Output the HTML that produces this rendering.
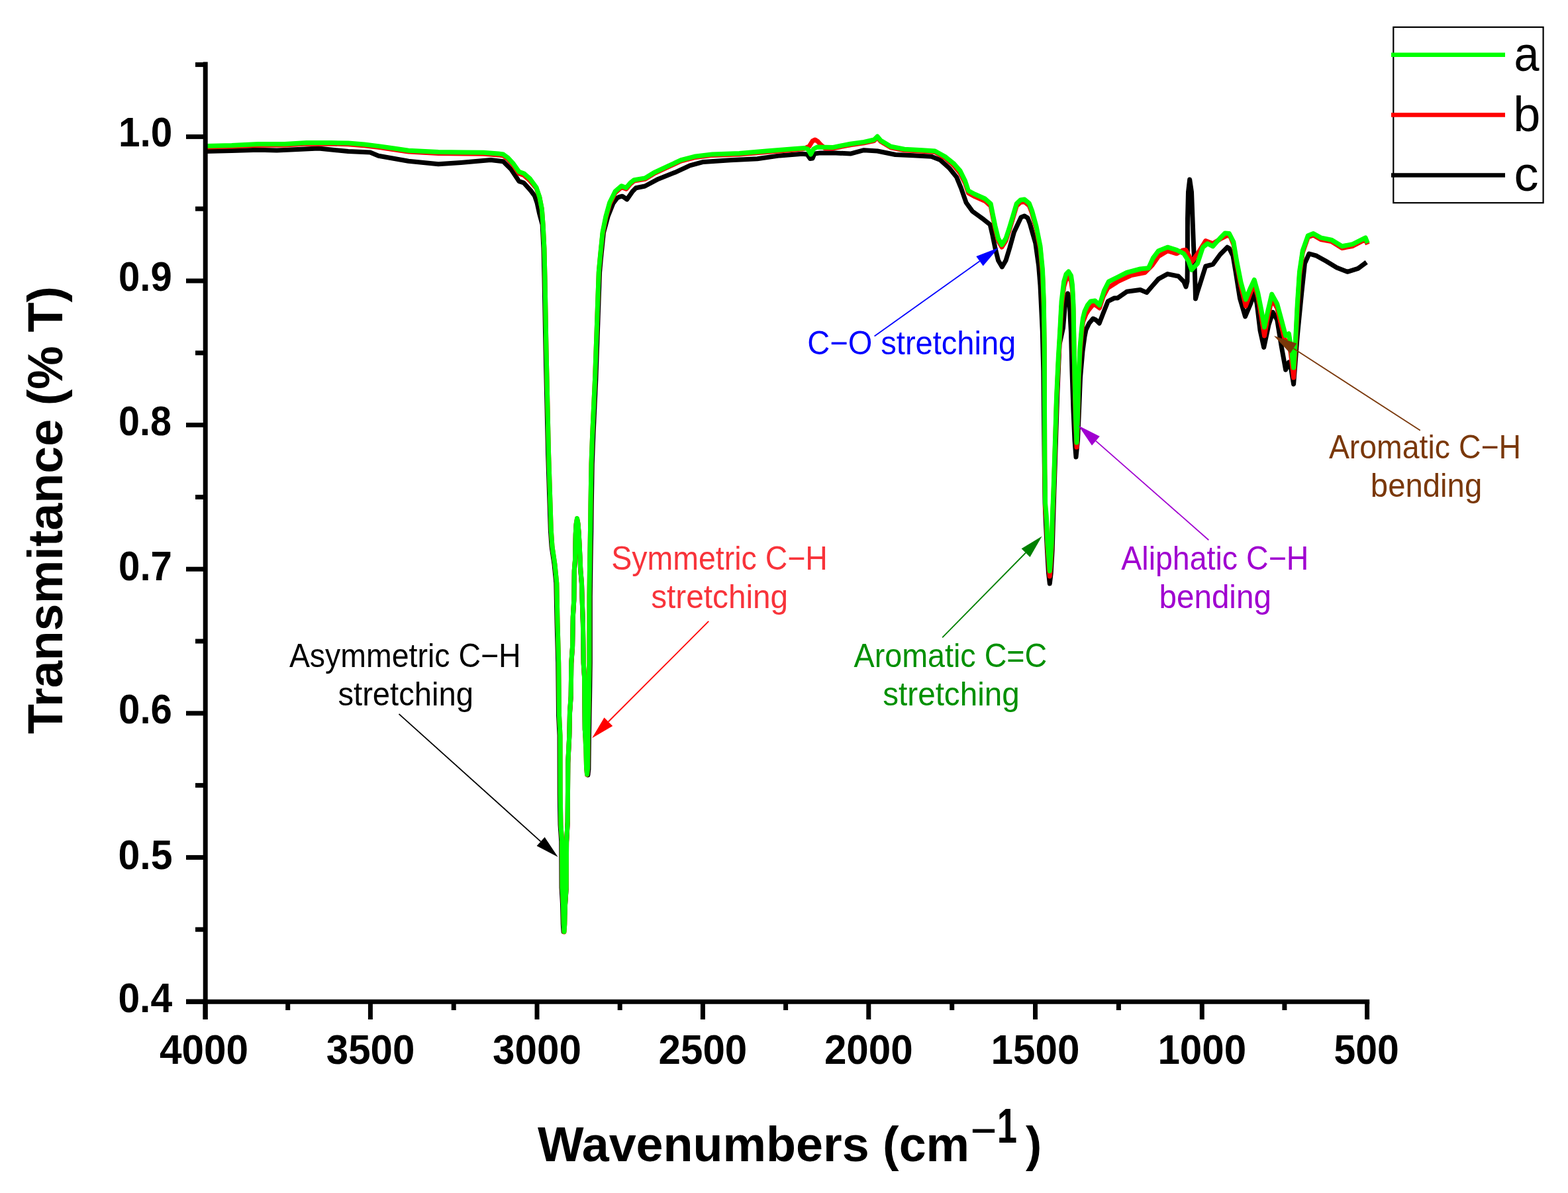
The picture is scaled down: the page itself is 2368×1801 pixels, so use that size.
<!DOCTYPE html>
<html><head><meta charset="utf-8"><title>FTIR spectra</title>
<style>html,body{margin:0;padding:0;background:#fff;} body{width:2368px;height:1801px;overflow:hidden;} svg{display:block;}</style>
</head><body>
<svg width="2368" height="1801" viewBox="0 0 2368 1801"><path d="M309.0,228.5 L350.0,227.5 L390.5,226.2 L418.0,227.0 L450.0,225.5 L481.0,224.0 L526.0,228.5 L559.0,230.0 L571.6,235.3 L617.0,243.2 L662.0,247.7 L696.0,245.5 L741.0,241.6 L760.0,243.8 L772.0,255.7 L783.8,273.6 L791.0,276.0 L801.7,287.9 L807.6,296.0 L811.0,306.0 L814.5,322.0 L819.1,339.0 L820.9,374.8 L822.0,420.0 L824.0,528.0 L827.6,685.7 L830.0,760.0 L831.3,800.0 L833.0,825.0 L837.0,852.0 L839.8,880.0 L841.0,940.0 L842.7,1000.0 L843.5,1080.0 L845.0,1110.0 L845.2,1200.0 L846.0,1245.0 L847.7,1270.0 L848.0,1340.0 L849.5,1365.0 L850.2,1395.0 L851.0,1406.5 L853.5,1367.0 L855.2,1342.0 L855.6,1272.0 L857.2,1242.0 L857.8,1152.0 L859.8,1112.0 L860.5,1077.0 L862.2,1052.0 L862.8,1002.0 L864.6,977.0 L865.3,932.0 L866.8,907.0 L867.3,862.0 L868.5,847.0 L869.3,807.0 L870.2,792.0 L871.5,784.5 L873.0,792.0 L874.2,807.0 L875.5,832.0 L876.8,862.0 L878.5,882.0 L879.2,907.0 L880.4,942.0 L881.2,1002.0 L882.5,1022.0 L883.3,1102.0 L886.1,1131.0 L886.9,1161.0 L887.9,1170.0 L888.9,1161.0 L889.5,1111.0 L890.6,1051.0 L891.3,1001.0 L891.3,901.0 L891.9,852.0 L892.8,801.0 L893.3,761.0 L894.3,701.0 L895.9,658.0 L899.9,572.0 L905.6,411.0 L907.7,387.7 L911.5,351.0 L918.0,327.0 L926.0,307.0 L932.0,299.0 L935.0,297.4 L939.8,296.2 L946.9,301.0 L955.2,289.0 L960.4,283.8 L974.0,281.0 L994.3,270.2 L1021.5,259.4 L1041.9,249.9 L1062.2,244.4 L1103.0,241.7 L1143.7,239.7 L1177.7,234.9 L1211.6,232.2 L1219.0,233.0 L1223.5,239.5 L1227.0,239.0 L1230.0,232.0 L1238.8,230.9 L1257.2,230.7 L1284.3,232.1 L1304.7,226.7 L1325.0,228.0 L1352.2,233.5 L1379.4,234.8 L1406.6,236.2 L1420.1,241.6 L1433.7,253.8 L1444.6,267.4 L1451.4,283.8 L1459.0,305.7 L1468.6,319.0 L1485.7,331.4 L1495.2,339.0 L1499.0,355.2 L1502.9,374.3 L1507.6,393.3 L1513.3,402.9 L1519.0,393.3 L1524.8,374.3 L1531.4,350.5 L1538.1,336.2 L1542.0,328.0 L1547.1,326.0 L1552.0,329.0 L1555.5,338.0 L1559.0,350.5 L1563.8,367.0 L1568.6,401.2 L1571.0,431.0 L1574.3,500.0 L1575.8,560.0 L1577.3,700.0 L1578.1,760.0 L1579.4,790.0 L1581.4,830.0 L1583.5,865.0 L1585.3,881.0 L1587.2,865.0 L1589.2,830.0 L1590.4,790.0 L1592.0,740.0 L1594.0,680.0 L1596.6,600.0 L1600.0,520.0 L1605.5,495.0 L1607.9,466.7 L1610.0,450.0 L1612.6,443.0 L1615.0,452.0 L1616.2,478.6 L1617.4,500.0 L1619.0,560.0 L1621.0,620.0 L1623.0,665.0 L1625.0,690.0 L1627.5,665.0 L1629.5,620.0 L1631.5,570.0 L1635.0,530.0 L1638.0,508.0 L1640.0,498.0 L1644.8,488.0 L1650.7,481.0 L1655.0,483.0 L1660.2,488.0 L1666.2,472.6 L1673.3,454.8 L1682.9,450.0 L1687.9,449.9 L1701.6,440.3 L1722.1,437.5 L1731.7,441.6 L1740.0,432.0 L1749.5,421.1 L1763.2,413.6 L1779.6,417.0 L1787.8,425.2 L1791.0,433.0 L1793.0,425.0 L1793.3,400.0 L1793.5,330.0 L1794.5,290.0 L1796.7,271.0 L1799.5,290.0 L1801.0,330.0 L1802.5,370.0 L1804.0,400.0 L1805.0,430.0 L1805.5,451.0 L1808.0,442.0 L1812.5,428.0 L1820.7,402.0 L1831.6,399.2 L1842.6,384.2 L1853.5,373.2 L1856.4,375.0 L1862.0,386.2 L1866.1,410.3 L1872.5,450.5 L1880.5,477.8 L1888.6,458.6 L1894.2,442.5 L1898.2,458.6 L1903.0,498.7 L1908.7,524.4 L1915.9,490.7 L1922.3,471.4 L1928.7,482.7 L1935.2,522.8 L1941.6,558.2 L1946.4,547.0 L1950.0,558.0 L1953.6,580.0 L1959.3,506.8 L1965.7,442.5 L1970.5,397.5 L1977.0,383.0 L1988.2,386.2 L2002.7,394.3 L2018.7,403.9 L2034.8,410.3 L2050.9,405.4 L2063.7,395.9" fill="none" stroke="#000" stroke-width="7" stroke-linejoin="round" stroke-linecap="butt"/>
<path d="M309.0,222.0 L350.0,221.0 L390.0,219.2 L430.0,219.1 L463.0,217.1 L500.0,217.2 L526.0,217.7 L550.0,219.8 L571.6,222.4 L595.0,225.8 L617.0,229.1 L662.0,231.5 L700.0,231.9 L730.0,232.3 L752.7,233.9 L760.0,235.0 L767.0,240.2 L775.5,249.8 L783.8,261.9 L791.0,264.5 L800.5,272.9 L810.0,284.3 L814.8,297.9 L818.3,315.7 L820.1,339.5 L821.9,375.3 L823.0,420.5 L825.0,528.5 L828.6,686.2 L831.0,760.5 L832.3,800.5 L834.0,825.5 L838.0,852.5 L840.8,880.5 L842.0,940.5 L843.7,1000.5 L844.5,1080.5 L846.0,1110.5 L846.2,1200.5 L847.0,1245.5 L848.7,1270.5 L849.0,1340.5 L850.5,1365.5 L851.2,1395.5 L852.0,1407.0 L852.8,1395.5 L853.5,1365.5 L855.2,1340.5 L855.6,1270.5 L857.2,1240.5 L857.8,1150.5 L859.8,1110.5 L860.5,1075.5 L862.2,1050.5 L862.8,1000.5 L864.6,975.5 L865.3,930.5 L866.8,905.5 L867.3,860.5 L868.5,845.5 L869.3,805.5 L870.2,790.5 L871.5,783.0 L873.0,790.5 L874.2,805.5 L875.5,830.5 L876.8,860.5 L878.5,880.5 L879.2,905.5 L880.4,940.5 L881.2,1000.5 L882.5,1020.5 L883.3,1100.5 L884.8,1130.5 L885.6,1160.5 L886.6,1169.5 L887.6,1160.5 L888.2,1110.5 L889.3,1050.5 L890.0,1000.5 L890.0,900.5 L890.6,851.5 L891.5,800.5 L892.0,760.5 L893.0,700.5 L894.6,657.5 L898.6,571.5 L904.3,411.4 L906.4,388.5 L910.0,353.5 L914.8,329.4 L920.7,308.0 L929.0,291.1 L938.6,282.6 L945.7,285.3 L952.0,277.7 L957.7,273.1 L974.0,270.4 L987.5,262.2 L1007.9,252.7 L1028.3,243.2 L1048.7,237.8 L1075.8,234.4 L1116.6,233.0 L1157.3,229.6 L1198.0,226.3 L1214.0,224.5 L1222.0,221.0 L1227.0,213.0 L1231.0,211.0 L1235.0,213.5 L1240.0,219.0 L1246.0,224.0 L1257.2,224.1 L1284.3,218.7 L1304.7,215.9 L1320.0,212.5 L1325.0,207.5 L1330.0,213.5 L1345.4,222.7 L1365.8,226.8 L1393.0,228.2 L1412.0,229.5 L1427.0,238.2 L1440.5,249.9 L1450.0,261.4 L1457.5,276.5 L1462.5,291.5 L1472.4,296.8 L1487.6,303.5 L1496.2,311.1 L1499.0,325.4 L1502.9,344.5 L1507.6,363.5 L1512.9,373.0 L1519.0,363.5 L1523.8,349.2 L1529.5,330.2 L1535.2,311.1 L1541.0,305.5 L1547.1,304.5 L1554.3,310.5 L1558.5,321.5 L1565.0,345.2 L1571.0,375.6 L1574.5,414.0 L1576.3,462.8 L1577.2,528.0 L1577.6,648.0 L1577.8,708.0 L1578.6,768.0 L1580.2,786.0 L1582.0,828.0 L1584.3,858.0 L1585.3,870.0 L1586.3,858.0 L1588.2,828.0 L1589.4,786.0 L1591.0,748.0 L1593.0,688.0 L1595.5,608.0 L1598.3,548.0 L1600.7,508.0 L1603.1,462.8 L1606.7,433.0 L1610.0,422.0 L1613.8,418.0 L1617.5,424.0 L1619.5,437.8 L1621.0,467.7 L1622.0,527.6 L1623.0,577.4 L1624.5,637.3 L1626.0,675.1 L1627.5,636.9 L1629.0,576.8 L1631.0,531.6 L1633.6,501.3 L1635.5,486.1 L1640.0,474.5 L1644.0,468.0 L1651.0,459.5 L1655.0,461.0 L1660.5,465.0 L1666.0,448.0 L1672.9,434.8 L1687.9,425.2 L1708.4,415.6 L1729.0,411.5 L1740.0,400.6 L1749.5,386.9 L1763.2,378.7 L1776.9,382.8 L1786.0,378.0 L1790.6,377.3 L1795.0,385.0 L1800.0,395.0 L1809.8,381.4 L1820.7,363.6 L1831.6,367.7 L1842.6,361.0 L1853.5,355.4 L1858.0,357.0 L1862.9,369.0 L1867.7,398.0 L1874.1,432.0 L1881.3,462.0 L1888.6,442.0 L1894.2,429.0 L1899.8,448.0 L1904.6,476.0 L1909.5,507.0 L1914.3,480.0 L1920.7,452.0 L1928.7,465.0 L1935.2,492.0 L1941.6,518.0 L1946.4,514.0 L1949.6,535.0 L1953.6,570.0 L1956.9,515.0 L1959.3,466.0 L1962.5,416.0 L1967.3,381.0 L1975.3,358.0 L1983.4,355.0 L1994.6,361.5 L2010.7,364.5 L2026.8,374.5 L2042.8,371.5 L2062.1,361.5 L2065.3,369.0" fill="none" stroke="#f00" stroke-width="7" stroke-linejoin="round" stroke-linecap="butt"/>
<path d="M309.0,220.5 L350.0,219.5 L390.0,217.6 L430.0,217.5 L463.0,215.4 L500.0,215.5 L526.0,216.0 L550.0,218.0 L571.6,220.6 L595.0,224.0 L617.0,227.3 L662.0,229.6 L700.0,230.0 L730.0,230.3 L752.7,231.9 L760.0,233.0 L767.0,238.0 L775.5,247.4 L783.8,259.3 L791.0,261.7 L800.5,270.0 L810.0,283.0 L814.8,297.4 L818.3,315.2 L820.1,339.0 L821.9,374.8 L823.0,420.0 L825.0,528.0 L828.6,685.7 L831.0,760.0 L832.3,800.0 L834.0,825.0 L838.0,852.0 L840.8,880.0 L842.0,940.0 L843.7,1000.0 L844.5,1080.0 L846.0,1110.0 L846.2,1200.0 L847.0,1245.0 L848.7,1270.0 L849.0,1340.0 L850.5,1365.0 L851.2,1395.0 L852.0,1406.5 L852.8,1395.0 L853.5,1365.0 L855.2,1340.0 L855.6,1270.0 L857.2,1240.0 L857.8,1150.0 L859.8,1110.0 L860.5,1075.0 L862.2,1050.0 L862.8,1000.0 L864.6,975.0 L865.3,930.0 L866.8,905.0 L867.3,860.0 L868.5,845.0 L869.3,805.0 L870.2,790.0 L871.5,782.5 L873.0,790.0 L874.2,805.0 L875.5,830.0 L876.8,860.0 L878.5,880.0 L879.2,905.0 L880.4,940.0 L881.2,1000.0 L882.5,1020.0 L883.3,1100.0 L884.8,1130.0 L885.6,1160.0 L886.6,1169.0 L887.6,1160.0 L888.2,1110.0 L889.3,1050.0 L890.0,1000.0 L890.0,900.0 L890.6,851.0 L891.5,800.0 L892.0,760.0 L893.0,700.0 L894.6,657.0 L898.6,571.0 L904.3,410.0 L906.4,386.7 L910.0,351.0 L914.8,327.0 L920.7,305.7 L929.0,289.0 L938.6,280.7 L945.7,283.5 L952.0,276.0 L957.7,271.6 L974.0,268.9 L987.5,260.7 L1007.9,251.2 L1028.3,241.7 L1048.7,236.3 L1075.8,232.9 L1116.6,231.5 L1157.3,228.1 L1198.0,224.8 L1215.0,223.5 L1220.0,225.0 L1224.5,233.0 L1228.5,225.0 L1234.0,222.0 L1257.2,222.6 L1284.3,217.2 L1304.7,214.4 L1320.0,211.0 L1325.0,206.0 L1330.0,212.0 L1345.4,221.2 L1365.8,225.3 L1393.0,226.7 L1412.0,228.0 L1427.0,236.2 L1440.5,247.0 L1450.0,257.9 L1457.5,273.0 L1462.5,288.0 L1472.4,293.3 L1487.6,300.0 L1496.2,307.6 L1499.0,321.9 L1502.9,341.0 L1507.6,360.0 L1512.9,369.5 L1519.0,360.0 L1523.8,345.7 L1529.5,326.7 L1535.2,307.6 L1541.0,302.0 L1547.1,301.0 L1554.3,307.0 L1558.5,318.0 L1565.0,341.7 L1571.0,371.4 L1574.5,407.1 L1576.3,454.8 L1577.2,520.0 L1577.6,640.0 L1577.8,700.0 L1578.6,760.0 L1580.2,778.0 L1582.0,820.0 L1584.3,850.0 L1585.3,862.0 L1586.3,850.0 L1588.2,820.0 L1589.4,778.0 L1591.0,740.0 L1593.0,680.0 L1595.5,600.0 L1598.3,540.0 L1600.7,500.0 L1603.1,454.8 L1606.7,425.0 L1610.0,414.0 L1613.8,410.0 L1617.5,416.0 L1619.5,430.0 L1621.0,460.0 L1622.0,520.0 L1623.0,570.0 L1624.5,630.0 L1626.0,668.0 L1627.5,630.0 L1629.0,570.0 L1631.0,525.0 L1633.6,495.0 L1635.5,480.0 L1638.0,470.0 L1642.4,460.7 L1647.0,455.0 L1653.7,454.0 L1660.5,460.8 L1667.4,438.9 L1674.2,425.2 L1687.9,418.4 L1701.6,411.5 L1722.1,406.0 L1734.5,404.7 L1741.3,389.6 L1749.5,378.7 L1763.2,373.2 L1776.9,377.3 L1787.8,382.8 L1794.7,393.7 L1799.5,407.4 L1808.4,397.8 L1816.6,373.2 L1823.4,367.7 L1831.6,371.8 L1842.6,359.5 L1850.0,352.0 L1856.4,352.5 L1862.9,365.4 L1867.7,394.3 L1874.1,426.4 L1881.3,452.1 L1888.6,434.4 L1894.2,422.4 L1899.8,442.5 L1904.6,466.6 L1909.5,493.9 L1914.3,471.4 L1920.7,444.1 L1928.7,458.6 L1935.2,482.7 L1941.6,506.8 L1946.4,503.6 L1949.6,522.8 L1953.6,555.0 L1956.9,506.8 L1959.3,458.6 L1962.5,410.3 L1967.3,378.2 L1975.3,355.7 L1983.4,352.5 L1994.6,358.9 L2010.7,362.1 L2026.8,371.8 L2042.8,368.6 L2062.1,358.9 L2065.3,367.0" fill="none" stroke="#0f0" stroke-width="7" stroke-linejoin="round" stroke-linecap="butt"/>
<g stroke="#000" stroke-width="7" stroke-linecap="butt"><line x1="310.2" y1="93.4" x2="310.2" y2="1539" /><line x1="281" y1="1512.2" x2="2068.2" y2="1512.2" /><line x1="310.0" y1="1512" x2="310.0" y2="1539" /><line x1="434.7" y1="1512" x2="434.7" y2="1525" /><line x1="559.4" y1="1512" x2="559.4" y2="1539" /><line x1="685.2" y1="1512" x2="685.2" y2="1525" /><line x1="811.0" y1="1512" x2="811.0" y2="1539" /><line x1="936.2" y1="1512" x2="936.2" y2="1525" /><line x1="1061.4" y1="1512" x2="1061.4" y2="1539" /><line x1="1186.6" y1="1512" x2="1186.6" y2="1525" /><line x1="1311.8" y1="1512" x2="1311.8" y2="1539" /><line x1="1437.7" y1="1512" x2="1437.7" y2="1525" /><line x1="1563.5" y1="1512" x2="1563.5" y2="1539" /><line x1="1689.4" y1="1512" x2="1689.4" y2="1525" /><line x1="1815.3" y1="1512" x2="1815.3" y2="1539" /><line x1="1939.9" y1="1512" x2="1939.9" y2="1525" /><line x1="2064.6" y1="1512" x2="2064.6" y2="1539" /><line x1="281" y1="206.4" x2="310" y2="206.4" /><line x1="281" y1="424.0" x2="310" y2="424.0" /><line x1="281" y1="641.6" x2="310" y2="641.6" /><line x1="281" y1="859.2" x2="310" y2="859.2" /><line x1="281" y1="1076.8" x2="310" y2="1076.8" /><line x1="281" y1="1294.4" x2="310" y2="1294.4" /><line x1="281" y1="1512.0" x2="310" y2="1512.0" /><line x1="295" y1="97.6" x2="310" y2="97.6" /><line x1="295" y1="315.2" x2="310" y2="315.2" /><line x1="295" y1="532.8" x2="310" y2="532.8" /><line x1="295" y1="750.4" x2="310" y2="750.4" /><line x1="295" y1="968.0" x2="310" y2="968.0" /><line x1="295" y1="1185.6" x2="310" y2="1185.6" /><line x1="295" y1="1403.2" x2="310" y2="1403.2" /></g>
<text x="179.09" y="220.50" font-family="Liberation Sans, Arial, sans-serif" font-size="63" font-weight="bold" fill="#000" textLength="81.32" lengthAdjust="spacingAndGlyphs">1.0</text><text x="179.06" y="439.40" font-family="Liberation Sans, Arial, sans-serif" font-size="63" font-weight="bold" fill="#000" textLength="80.73" lengthAdjust="spacingAndGlyphs">0.9</text><text x="179.08" y="656.50" font-family="Liberation Sans, Arial, sans-serif" font-size="63" font-weight="bold" fill="#000" textLength="79.88" lengthAdjust="spacingAndGlyphs">0.8</text><text x="179.05" y="875.60" font-family="Liberation Sans, Arial, sans-serif" font-size="63" font-weight="bold" fill="#000" textLength="80.95" lengthAdjust="spacingAndGlyphs">0.7</text><text x="179.05" y="1092.40" font-family="Liberation Sans, Arial, sans-serif" font-size="63" font-weight="bold" fill="#000" textLength="80.84" lengthAdjust="spacingAndGlyphs">0.6</text><text x="178.43" y="1311.80" font-family="Liberation Sans, Arial, sans-serif" font-size="63" font-weight="bold" fill="#000" textLength="82.07" lengthAdjust="spacingAndGlyphs">0.5</text><text x="178.43" y="1528.10" font-family="Liberation Sans, Arial, sans-serif" font-size="63" font-weight="bold" fill="#000" textLength="81.72" lengthAdjust="spacingAndGlyphs">0.4</text><text x="240.94" y="1605.50" font-family="Liberation Sans, Arial, sans-serif" font-size="63" font-weight="bold" fill="#000" textLength="134.08" lengthAdjust="spacingAndGlyphs">4000</text><text x="492.79" y="1605.50" font-family="Liberation Sans, Arial, sans-serif" font-size="63" font-weight="bold" fill="#000" textLength="133.62" lengthAdjust="spacingAndGlyphs">3500</text><text x="744.08" y="1605.50" font-family="Liberation Sans, Arial, sans-serif" font-size="63" font-weight="bold" fill="#000" textLength="133.85" lengthAdjust="spacingAndGlyphs">3000</text><text x="994.48" y="1605.50" font-family="Liberation Sans, Arial, sans-serif" font-size="63" font-weight="bold" fill="#000" textLength="133.85" lengthAdjust="spacingAndGlyphs">2500</text><text x="1244.88" y="1605.50" font-family="Liberation Sans, Arial, sans-serif" font-size="63" font-weight="bold" fill="#000" textLength="133.85" lengthAdjust="spacingAndGlyphs">2000</text><text x="1496.58" y="1605.50" font-family="Liberation Sans, Arial, sans-serif" font-size="63" font-weight="bold" fill="#000" textLength="133.85" lengthAdjust="spacingAndGlyphs">1500</text><text x="1748.38" y="1605.50" font-family="Liberation Sans, Arial, sans-serif" font-size="63" font-weight="bold" fill="#000" textLength="133.85" lengthAdjust="spacingAndGlyphs">1000</text><text x="2014.53" y="1605.50" font-family="Liberation Sans, Arial, sans-serif" font-size="63" font-weight="bold" fill="#000" textLength="98.40" lengthAdjust="spacingAndGlyphs">500</text>
<text x="-1108.10" y="0" transform="translate(94.3,0) rotate(-90)" font-family="Liberation Sans, Arial, sans-serif" font-size="74" font-weight="bold" fill="#000" textLength="676.10" lengthAdjust="spacingAndGlyphs">Transmitance (% T)</text>
<text x="811.90" y="1752.80" font-family="Liberation Sans, Arial, sans-serif" font-size="75" font-weight="bold" fill="#000" textLength="652.22" lengthAdjust="spacingAndGlyphs">Wavenumbers (cm</text>
<text x="1465.56" y="1731.80" font-family="Liberation Sans, Arial, sans-serif" font-size="75" font-weight="normal" fill="#000" textLength="39.92" lengthAdjust="spacingAndGlyphs">−</text>
<text x="1505.77" y="1724.60" font-family="Liberation Sans, Arial, sans-serif" font-size="75" font-weight="bold" fill="#000" textLength="30.28" lengthAdjust="spacingAndGlyphs">1</text>
<text x="1549.00" y="1752.80" font-family="Liberation Sans, Arial, sans-serif" font-size="75" font-weight="bold" fill="#000" textLength="24.27" lengthAdjust="spacingAndGlyphs">)</text>
<rect x="2104.3" y="41" width="226.3" height="265.2" fill="none" stroke="#000" stroke-width="2.2"/><line x1="2101" y1="82.7" x2="2273" y2="82.7" stroke="#0f0" stroke-width="6.5"/><line x1="2101" y1="173.5" x2="2273" y2="173.5" stroke="#f00" stroke-width="6.5"/><line x1="2101" y1="264.5" x2="2273" y2="264.5" stroke="#000" stroke-width="6.5"/><g font-family="Liberation Sans, Arial, sans-serif" font-size="74" fill="#000"><text x="2286.6" y="107" textLength="38" lengthAdjust="spacingAndGlyphs">a</text><text x="2285.3" y="197.5">b</text><text x="2286.4" y="288">c</text></g>
<text x="436.90" y="1007.00" font-family="Liberation Sans, Arial, sans-serif" font-size="50" font-weight="normal" fill="#000" textLength="349.71" lengthAdjust="spacingAndGlyphs">Asymmetric C−H</text>
<text x="510.51" y="1064.70" font-family="Liberation Sans, Arial, sans-serif" font-size="50" font-weight="normal" fill="#000" textLength="204.41" lengthAdjust="spacingAndGlyphs">stretching</text>
<text x="923.34" y="860.00" font-family="Liberation Sans, Arial, sans-serif" font-size="50" font-weight="normal" fill="#f8333a" textLength="326.57" lengthAdjust="spacingAndGlyphs">Symmetric C−H</text>
<text x="983.19" y="918.40" font-family="Liberation Sans, Arial, sans-serif" font-size="50" font-weight="normal" fill="#f8333a" textLength="206.96" lengthAdjust="spacingAndGlyphs">stretching</text>
<text x="1219.18" y="535.20" font-family="Liberation Sans, Arial, sans-serif" font-size="50" font-weight="normal" fill="#0000ff" textLength="315.13" lengthAdjust="spacingAndGlyphs">C−O stretching</text>
<text x="1289.60" y="1006.50" font-family="Liberation Sans, Arial, sans-serif" font-size="50" font-weight="normal" fill="#009000" textLength="291.71" lengthAdjust="spacingAndGlyphs">Aromatic C=C</text>
<text x="1333.30" y="1065.40" font-family="Liberation Sans, Arial, sans-serif" font-size="50" font-weight="normal" fill="#009000" textLength="206.35" lengthAdjust="spacingAndGlyphs">stretching</text>
<text x="1693.30" y="860.00" font-family="Liberation Sans, Arial, sans-serif" font-size="50" font-weight="normal" fill="#a000d0" textLength="283.10" lengthAdjust="spacingAndGlyphs">Aliphatic C−H</text>
<text x="1750.44" y="917.60" font-family="Liberation Sans, Arial, sans-serif" font-size="50" font-weight="normal" fill="#a000d0" textLength="169.48" lengthAdjust="spacingAndGlyphs">bending</text>
<text x="2006.90" y="692.10" font-family="Liberation Sans, Arial, sans-serif" font-size="50" font-weight="normal" fill="#7a380a" textLength="290.12" lengthAdjust="spacingAndGlyphs">Aromatic C−H</text>
<text x="2069.86" y="750.20" font-family="Liberation Sans, Arial, sans-serif" font-size="50" font-weight="normal" fill="#7a380a" textLength="168.35" lengthAdjust="spacingAndGlyphs">bending</text>
<line x1="602.5" y1="1077.8" x2="816.6" y2="1270.4" stroke="#000" stroke-width="1.8"/><polygon points="842.6,1293.8 810.6,1277.1 822.6,1263.7" fill="#000"/>
<line x1="1070.2" y1="937.9" x2="918.8" y2="1089.5" stroke="#f00" stroke-width="1.8"/><polygon points="894.1,1114.3 912.5,1083.2 925.2,1095.9" fill="#f00"/>
<line x1="1320.6" y1="507.5" x2="1479.5" y2="394.2" stroke="#00f" stroke-width="1.8"/><polygon points="1508.0,373.9 1484.7,401.5 1474.3,386.9" fill="#00f"/>
<line x1="1423.2" y1="962.3" x2="1549.0" y2="834.5" stroke="#008000" stroke-width="1.8"/><polygon points="1573.6,809.6 1555.5,840.9 1542.6,828.2" fill="#008000"/>
<line x1="1825.3" y1="815.2" x2="1654.9" y2="665.6" stroke="#a000d0" stroke-width="1.8"/><polygon points="1628.6,642.5 1660.8,658.8 1649.0,672.4" fill="#a000d0"/>
<line x1="2144.8" y1="649.8" x2="1953.4" y2="526.0" stroke="#7a380a" stroke-width="1.8"/><polygon points="1924.0,507.0 1958.3,518.4 1948.5,533.6" fill="#7a380a"/></svg>
</body></html>
